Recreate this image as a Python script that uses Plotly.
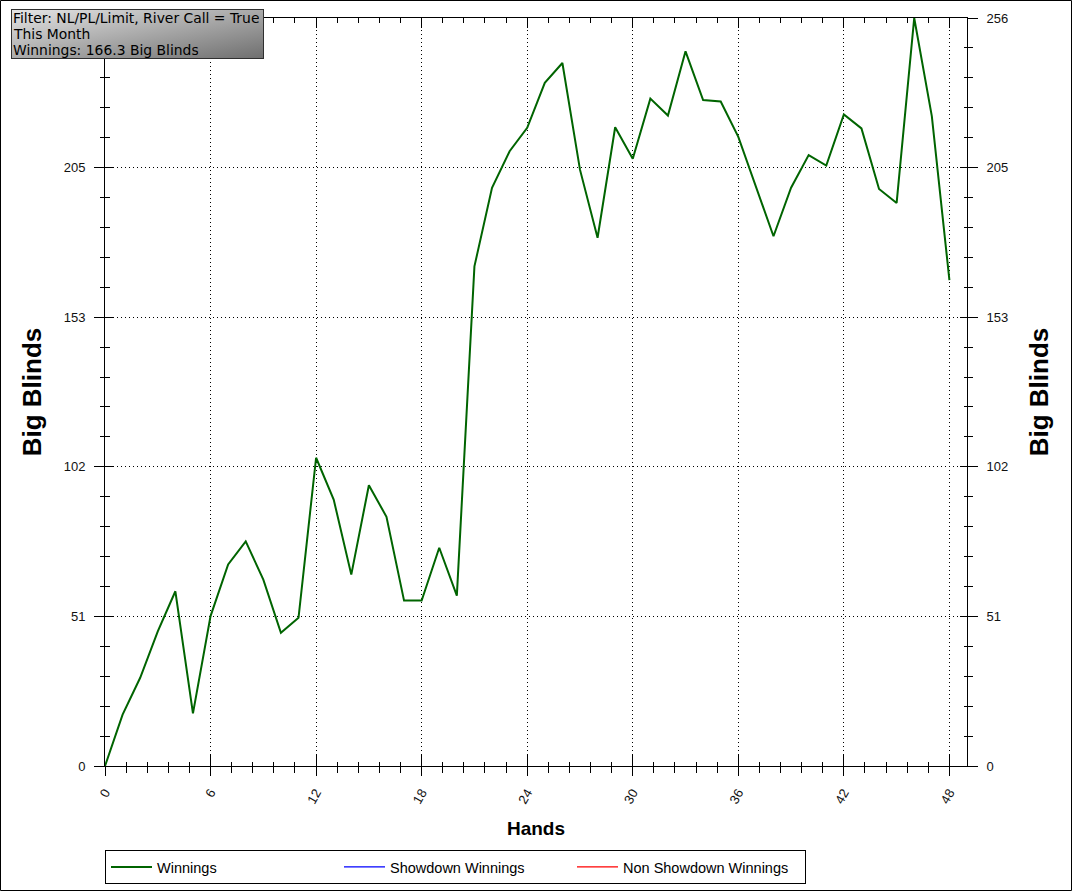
import plotly.graph_objects as go

# ---------------- data ----------------
hands = list(range(49))
winnings = [0, 17.6, 30.2, 46.1, 59.8, 18.0, 51.3, 69.0, 76.9, 63.8,
            45.6, 50.7, 105.5, 91.2, 65.5, 96.1, 85.3, 56.6, 56.6, 74.7,
            58.3, 171.0, 197.9, 210.4, 218.4, 233.8, 240.6, 204.1, 180.8, 218.6,
            207.8, 228.4, 222.6, 244.6, 227.9, 227.4, 215.3, 198.5, 181.3, 197.9,
            209.1, 205.5, 223.0, 218.2, 197.5, 192.7, 256.0, 222.4, 166.3]
showdown_winnings = [None]
non_showdown_winnings = [None]

y_tickvals = [0, 51.2, 102.4, 153.6, 204.8, 256]
y_ticktext_right = ["0", "51", "102", "153", "205", "256"]
y_ticktext_left = ["0", "51", "102", "153", "205", ""]  # top label hidden by the info box
x_range = [0, 49]
y_range = [0, 256]

info_lines = ["Filter: NL/PL/Limit, River Call = True", "This Month",
              "Winnings: 166.3 Big Blinds"]

# ---------------- layout geometry ----------------
W, H = 1072, 891
L, R, T, B = 105, 105, 18, 125
PW, PH = W - L - R, H - T - B


def px(xp):
    return (xp - L) / PW


def py(yp):
    return (H - B - yp) / PH


FONT = "Liberation Sans, Arial, sans-serif"
DOT = "1px,3px"

fig = go.Figure()
fig.add_trace(go.Scatter(x=hands, y=winnings, mode="lines", name="Winnings",
                         line=dict(color="#006400", width=2)))
fig.add_trace(go.Scatter(x=showdown_winnings, y=showdown_winnings, mode="lines",
                         name="Showdown Winnings", line=dict(color="#0000ff", width=1.3)))
fig.add_trace(go.Scatter(x=non_showdown_winnings, y=non_showdown_winnings, mode="lines",
                         name="Non Showdown Winnings", line=dict(color="#ff0000", width=1.3)))
# placeholder traces so the duplicate tick axes get drawn
for xa, ya in [("x2", "y2"), ("x3", "y3"), ("x3", "y4")]:
    fig.add_trace(go.Scatter(x=[None], y=[None], xaxis=xa, yaxis=ya, mode="lines",
                             showlegend=False, hoverinfo="skip"))

tickfont = dict(family=FONT, size=13, color="#111")
common_x = dict(range=x_range, tickmode="linear", tick0=0, dtick=6,
                showline=True, linecolor="black", linewidth=1, zeroline=False,
                tickcolor="black", tickwidth=1)
common_y = dict(range=y_range, tickmode="array", tickvals=y_tickvals,
                showline=True, linecolor="black", linewidth=1, zeroline=False,
                tickcolor="black", tickwidth=1)

fig.update_layout(
    width=W, height=H,
    margin=dict(l=L, r=R, t=T, b=B, autoexpand=False),
    paper_bgcolor="white", plot_bgcolor="white",
    showlegend=True,
    xaxis=dict(**common_x, side="bottom", anchor="y", ticks="outside", ticklen=9,
               tickangle=-60, tickfont=tickfont, ticklabelstandoff=4,
               showgrid=True, gridcolor="black", gridwidth=1, griddash=DOT,
               minor=dict(tick0=0, dtick=1.2, ticks="outside", ticklen=6,
                          tickcolor="black", showgrid=False),
               title=dict(text="<b>Hands</b>", standoff=16,
                          font=dict(family=FONT, size=19, color="black")),
               automargin=False),
    xaxis2=dict(**common_x, overlaying="x", side="bottom", anchor="y2",
                ticks="inside", ticklen=11, showticklabels=False, showgrid=False,
                minor=dict(tick0=0, dtick=1.2, ticks="inside", ticklen=4,
                           tickcolor="black", showgrid=False)),
    xaxis3=dict(**common_x, overlaying="x", side="top", anchor="y3",
                ticks="inside", ticklen=10, showticklabels=False, showgrid=False,
                minor=dict(tick0=0, dtick=1.2, ticks="inside", ticklen=5,
                           tickcolor="black", showgrid=False)),
    yaxis=dict(**common_y, ticktext=y_ticktext_left, side="left", anchor="x",
               ticks="outside", ticklen=10, tickfont=tickfont, ticklabelstandoff=6,
               showgrid=True, gridcolor="black", gridwidth=1, griddash=DOT,
               minor=dict(tick0=0, dtick=10.24, ticks="outside", ticklen=4,
                          tickcolor="black", showgrid=False),
               title=dict(text="<b>Big Blinds</b>", standoff=14,
                          font=dict(family=FONT, size=26, color="black")),
               automargin=False),
    yaxis2=dict(**common_y, overlaying="y", side="left", anchor="x2",
                ticks="inside", ticklen=9, showticklabels=False, showgrid=False,
                minor=dict(tick0=0, dtick=10.24, ticks="inside", ticklen=5,
                           tickcolor="black", showgrid=False)),
    yaxis3=dict(**common_y, ticktext=y_ticktext_right, overlaying="y", side="right",
                anchor="x3", ticks="outside", ticklen=10, tickfont=tickfont,
                ticklabelstandoff=6, showgrid=False,
                minor=dict(tick0=0, dtick=10.24, ticks="outside", ticklen=5,
                           tickcolor="black", showgrid=False),
                title=dict(text="<b>Big Blinds</b>", standoff=22,
                           font=dict(family=FONT, size=26, color="black")),
                automargin=False),
    yaxis4=dict(**common_y, overlaying="y", side="right", anchor="x3",
                ticks="inside", ticklen=7, showticklabels=False, showgrid=False,
                minor=dict(tick0=0, dtick=10.24, ticks="inside", ticklen=3,
                           tickcolor="black", showgrid=False)),
    legend=dict(orientation="h", x=px(105), y=py(850), xanchor="left", yanchor="top",
                bgcolor="white", bordercolor="black", borderwidth=1,
                itemwidth=41, entrywidth=177, entrywidthmode="pixels",
                font=dict(family=FONT, size=14.5, color="black"),
                itemclick=False, itemdoubleclick=False),
)

# gradient background of the info box
svg = ("data:image/svg+xml;utf8,<svg xmlns='http://www.w3.org/2000/svg' width='253' height='50'>"
       "<defs><linearGradient id='g' x1='0' y1='0' x2='1' y2='1'>"
       "<stop offset='0' stop-color='%23e6e6e6'/><stop offset='1' stop-color='%236e6e6e'/>"
       "</linearGradient></defs><rect width='253' height='50' fill='url(%23g)' "
       "stroke='%23303030' stroke-width='2'/></svg>")
fig.add_layout_image(dict(source=svg, xref="paper", yref="paper",
                          x=px(11), y=py(9), sizex=253 / PW, sizey=50 / PH,
                          xanchor="left", yanchor="top", sizing="stretch", layer="above"))

for i, line in enumerate(info_lines):
    fig.add_annotation(xref="paper", yref="paper", x=px(12), y=py(9 + 16 * i),
                       xanchor="left", yanchor="top", align="left", valign="middle",
                       showarrow=False, text=line, borderpad=0, height=16,
                       font=dict(family="DejaVu Sans, Verdana, sans-serif", size=13.9,
                                 color="black"))

# outer frame of the picture
fig.add_shape(type="rect", xref="paper", yref="paper",
              x0=px(0.5), x1=px(W - 0.5), y0=py(H - 0.5), y1=py(0.5),
              line=dict(color="black", width=1), layer="above")

fig.write_html("out.html", config={"displayModeBar": False},
               post_script="document.body.style.margin='0';")
